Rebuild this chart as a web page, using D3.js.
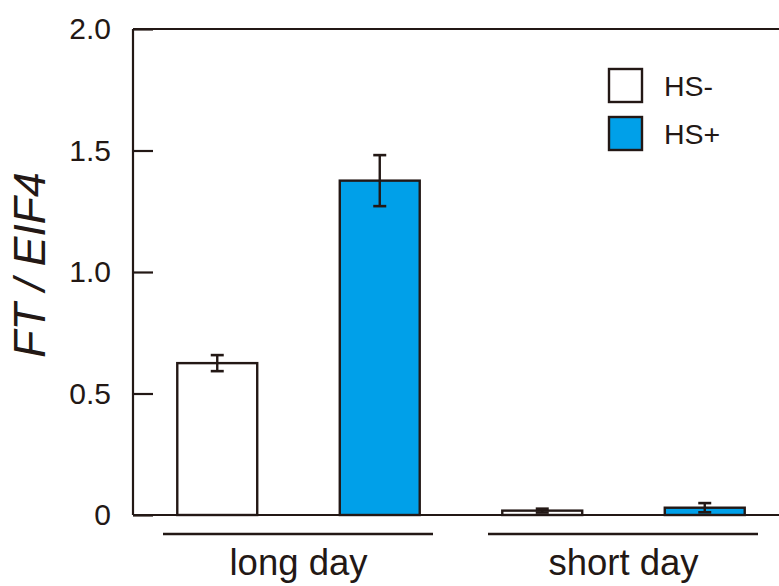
<!DOCTYPE html>
<html>
<head>
<meta charset="utf-8">
<script src="https://cdn.jsdelivr.net/npm/d3@7"></script>
<style>
  body { margin: 0; background: #fff; }
  text { font-family: "Liberation Sans", Arial, sans-serif; fill: #231815; }
</style>
</head>
<body>
<div id="chart"></div>
<script>
// values
const groups = ["long day", "short day"];
const treatments = ["HS-", "HS+"];
const means = [[0.625, 1.376], [0.018, 0.030]];
const errors = [[0.033, 0.105], [0.008, 0.019]];
const yTicks = [0, 0.5, 1.0, 1.5, 2.0];

const ink = "#231815";
const colors = { "HS-": "#ffffff", "HS+": "#00a0e9" };

const width = 779, height = 586;
const plotLeft = 133, plotRight = 779, plotTop = 29, plotBottom = 515;

const svg = d3.select("#chart").append("svg")
    .attr("width", width)
    .attr("height", height);

const y = d3.scaleLinear().domain([0, 2.0]).range([plotBottom, plotTop]);

// outer scale for day length groups, inner one for treatment
const x0 = d3.scaleBand().domain(groups).range([136, 786]);
const x1 = d3.scaleBand().domain(treatments).range([0, x0.bandwidth()])
    .paddingInner(0.508).paddingOuter(0.254);

// y axis, ticks pointing inward
const yAxis = svg.append("g")
    .attr("transform", `translate(${plotLeft},0)`)
    .call(d3.axisLeft(y).tickValues(yTicks)
        .tickSizeInner(-20).tickSizeOuter(0).tickPadding(22)
        .tickFormat(d => d === 0 ? "0" : d3.format(".1f")(d)));
yAxis.select(".domain").remove();
yAxis.selectAll(".tick line").attr("stroke", ink).attr("stroke-width", 2.2);
yAxis.selectAll(".tick text")
    .attr("font-size", 30)
    .attr("font-family", "Liberation Sans, Arial, sans-serif")
    .attr("fill", ink);

// frame lines: left, top
svg.append("line")
    .attr("x1", plotLeft).attr("x2", plotLeft)
    .attr("y1", plotTop).attr("y2", plotBottom)
    .attr("stroke", ink).attr("stroke-width", 2.2);
svg.append("line")
    .attr("x1", plotLeft).attr("x2", plotRight)
    .attr("y1", plotTop).attr("y2", plotTop)
    .attr("stroke", ink).attr("stroke-width", 2.2);

// bars
const rows = [];
groups.forEach((g, gi) => treatments.forEach((t, ti) => {
    rows.push({ group: g, treat: t, mean: means[gi][ti], err: errors[gi][ti] });
}));

const bar = svg.append("g").selectAll("g")
    .data(rows)
    .enter().append("g")
    .attr("transform", d => `translate(${x0(d.group) + x1(d.treat)},0)`);

bar.append("rect")
    .attr("x", 0)
    .attr("width", x1.bandwidth())
    .attr("y", d => y(d.mean))
    .attr("height", d => y(0) - y(d.mean))
    .attr("fill", d => colors[d.treat])
    .attr("stroke", ink)
    .attr("stroke-width", 2.4);

// error bars
const cap = 6.5;
const cx = x1.bandwidth() / 2;
bar.append("line")
    .attr("x1", cx).attr("x2", cx)
    .attr("y1", d => y(d.mean + d.err))
    .attr("y2", d => y(d.mean - d.err))
    .attr("stroke", ink).attr("stroke-width", 2.4);
bar.append("line")
    .attr("x1", cx - cap).attr("x2", cx + cap)
    .attr("y1", d => y(d.mean + d.err))
    .attr("y2", d => y(d.mean + d.err))
    .attr("stroke", ink).attr("stroke-width", 2.6);
bar.append("line")
    .attr("x1", cx - cap).attr("x2", cx + cap)
    .attr("y1", d => y(d.mean - d.err))
    .attr("y2", d => y(d.mean - d.err))
    .attr("stroke", ink).attr("stroke-width", 2.6);

// baseline drawn over bars
svg.append("line")
    .attr("x1", plotLeft).attr("x2", plotRight)
    .attr("y1", y(0)).attr("y2", y(0))
    .attr("stroke", ink).attr("stroke-width", 2.2);

// group underlines and labels
const grp = svg.append("g").selectAll("g")
    .data(groups)
    .enter().append("g");
grp.append("line")
    .attr("x1", d => x0(d) + 27)
    .attr("x2", d => x0(d) + x0.bandwidth() - 28)
    .attr("y1", 534).attr("y2", 534)
    .attr("stroke", ink).attr("stroke-width", 2.4);
grp.append("text")
    .attr("x", d => x0(d) + x0.bandwidth() / 2)
    .attr("y", 575)
    .attr("text-anchor", "middle")
    .attr("font-size", 36.5)
    .text(d => d);

// y axis title
svg.append("text")
    .attr("transform", "translate(45,265) rotate(-90)")
    .attr("text-anchor", "middle")
    .attr("font-size", 44.5)
    .attr("font-style", "italic")
    .text("FT / EIF4");

// legend
const legend = svg.append("g").selectAll("g")
    .data(treatments)
    .enter().append("g")
    .attr("transform", (d, i) => `translate(609,${69 + i * 48})`);
legend.append("rect")
    .attr("width", 33).attr("height", 33)
    .attr("fill", d => colors[d])
    .attr("stroke", ink).attr("stroke-width", 2.4);
legend.append("text")
    .attr("x", 55).attr("y", 17)
    .attr("dy", "0.36em")
    .attr("font-size", 28.5)
    .text(d => d);
</script>
</body>
</html>
